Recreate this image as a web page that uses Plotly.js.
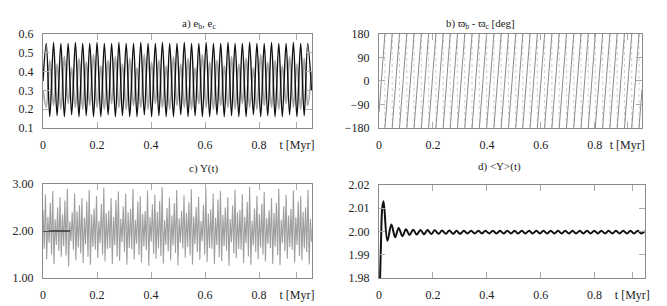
<!DOCTYPE html>
<html><head><meta charset="utf-8">
<script src="https://cdn.plot.ly/plotly-3.0.1.min.js"></script>
<style>html,body{margin:0;padding:0;background:#fff}#c{width:667px;height:306px}</style>
</head><body><div id="c"></div>
<script>
// ---- panel a: eccentricities (extrema) ----
const tExt = [0,0.012,0.025,0.039,0.052,0.066,0.079,0.093,0.106,0.120,0.133,0.147,0.160,0.173,0.187,0.200,0.214,0.227,0.241,0.254,0.268,0.281,0.294,0.308,0.321,0.335,0.348,0.362,0.375,0.389,0.402,0.416,0.429,0.442,0.456,0.469,0.483,0.496,0.510,0.523,0.537,0.550,0.563,0.577,0.590,0.604,0.617,0.631,0.644,0.658,0.671,0.685,0.698,0.711,0.725,0.738,0.752,0.765,0.779,0.792,0.806,0.819,0.832,0.846,0.859,0.873,0.886,0.900,0.913,0.927,0.940,0.954,0.967,0.980,0.994];
const eB = [0.35,0.55,0.16,0.555,0.165,0.55,0.16,0.55,0.17,0.555,0.16,0.55,0.165,0.55,0.16,0.555,0.16,0.55,0.17,0.55,0.16,0.555,0.165,0.55,0.16,0.55,0.16,0.555,0.17,0.55,0.16,0.55,0.165,0.555,0.16,0.55,0.16,0.55,0.17,0.555,0.16,0.55,0.165,0.55,0.16,0.555,0.16,0.55,0.17,0.55,0.16,0.555,0.165,0.55,0.16,0.55,0.16,0.555,0.17,0.55,0.16,0.55,0.165,0.555,0.16,0.55,0.16,0.55,0.17,0.555,0.16,0.55,0.165,0.55,0.30];
const eC = [0.30,0.21,0.46,0.22,0.44,0.20,0.48,0.23,0.42,0.21,0.47,0.20,0.45,0.22,0.49,0.21,0.43,0.20,0.46,0.23,0.48,0.21,0.44,0.20,0.47,0.22,0.42,0.21,0.49,0.20,0.45,0.23,0.46,0.21,0.43,0.20,0.48,0.22,0.44,0.21,0.47,0.20,0.42,0.23,0.49,0.21,0.45,0.20,0.46,0.22,0.43,0.21,0.48,0.20,0.44,0.23,0.47,0.21,0.42,0.20,0.49,0.22,0.45,0.21,0.46,0.20,0.43,0.23,0.48,0.21,0.44,0.20,0.47,0.22,0.40];

// ---- panel b: apsidal angle difference, wrap times ----
const bStartT = 0, bStartAngle = -120;
const bWrapT = [0.022,0.049,0.076,0.103,0.130,0.157,0.184,0.211,0.238,0.264,0.291,0.318,0.345,0.372,0.399,0.426,0.453,0.480,0.507,0.533,0.560,0.587,0.614,0.641,0.668,0.695,0.722,0.749,0.776,0.802,0.829,0.856,0.883,0.910,0.937,0.964];
const bEndT = 0.975, bEndAngle = -33;

// ---- panel c: Y(t), uniform samples ----
const cDt = 0.0045;
const cY = [
2.45,1.62,2.78,1.40,2.30,1.75, 2.60,1.50,2.85,1.30,2.25,1.70, 2.50,1.58,2.72,1.45,2.35,1.68,
2.65,1.48,2.90,1.25,2.20,1.78, 2.40,1.60,2.80,1.38,2.42,1.65, 2.55,1.52,2.70,1.32,2.28,1.72,
2.62,1.45,2.88,1.28,2.35,1.66, 2.48,1.60,2.75,1.42,2.22,1.74, 2.58,1.50,2.92,1.35,2.38,1.62,
2.44,1.64,2.70,1.30,2.30,1.70, 2.66,1.46,2.84,1.36,2.26,1.76, 2.52,1.56,2.79,1.28,2.40,1.64,
2.47,1.61,2.90,1.40,2.24,1.73, 2.63,1.49,2.74,1.33,2.36,1.67, 2.42,1.59,2.86,1.26,2.29,1.77,
2.57,1.51,2.77,1.41,2.41,1.63, 2.64,1.47,2.93,1.31,2.23,1.71, 2.49,1.57,2.71,1.37,2.33,1.69,
2.59,1.53,2.87,1.27,2.27,1.75, 2.43,1.63,2.76,1.43,2.39,1.66, 2.61,1.48,2.89,1.29,2.31,1.72,
2.51,1.55,2.73,1.39,2.21,1.78, 2.56,1.50,2.91,1.34,2.37,1.64, 2.46,1.62,2.80,1.30,2.28,1.70,
2.67,1.44,2.85,1.36,2.34,1.68, 2.50,1.58,2.72,1.26,2.25,1.76, 2.54,1.52,2.88,1.42,2.40,1.62,
2.45,1.60,2.78,1.32,2.30,1.74, 2.62,1.46,2.94,1.28,2.22,1.69, 2.48,1.56,2.75,1.40,2.36,1.65,
2.58,1.50,2.83,1.35,2.27,1.73, 2.44,1.64,2.70,1.30,2.38,1.67, 2.60,1.49,2.90,1.27,2.24,1.75,
2.52,1.57,2.77,1.41,2.33,1.66, 2.47,1.60,2.86,1.33,2.29,1.71, 2.63,1.47,2.74,1.38,2.41,1.63,
2.50,1.55,2.88,1.29,2.26,1.77
];
const cMeanLine = {t:[0,0.1], y:[2.0,2.0]};

// ---- panel d: running mean <Y>(t) ----
const dT = [0,0.004,0.008,0.012,0.017,0.031,0.046,0.060,0.073,0.087,0.100,0.113,0.127,0.140,0.154,0.167,0.180,0.194,0.207,0.221,0.234,0.248,0.261,0.275,0.288,0.301,0.315,0.328,0.342,0.355,0.369,0.382,0.395,0.409,0.422,0.436,0.449,0.463,0.476,0.490,0.503,0.516,0.530,0.543,0.557,0.570,0.584,0.597,0.610,0.624,0.637,0.651,0.664,0.678,0.691,0.705,0.718,0.731,0.745,0.758,0.772,0.785,0.799,0.812,0.825,0.839,0.852,0.866,0.879,0.893,0.906,0.920,0.933,0.946,0.960,0.973,0.987];
const dY = [1.960,1.980,1.998,2.010,2.013,1.996,2.003,1.9975,2.0015,1.998,2.0010,1.9985,2.0008,1.9987,2.0007,1.9988,2.0006,1.9989,2.0005,1.9990,2.0004,1.9990,2.0004,1.9990,2.0003,1.9990,2.0003,1.9991,2.0003,1.9991,2.0003,1.9991,2.0003,1.9991,2.0003,1.9991,2.0003,1.9991,2.0003,1.9991,2.0003,1.9991,2.0003,1.9991,2.0003,1.9991,2.0003,1.9991,2.0003,1.9991,2.0003,1.9991,2.0003,1.9991,2.0003,1.9991,2.0003,1.9991,2.0003,1.9991,2.0003,1.9991,2.0003,1.9991,2.0003,1.9991,2.0003,1.9991,2.0003,1.9991,2.0003,1.9991,2.0003,1.9991,2.0003,1.9991,2.0003];

const xTickVals = [0,0.2,0.4,0.6,0.8,0.94];
const xTickText = ['0','0.2','0.4','0.6','0.8','t [Myr]'];

// build panel b segments
const bx=[], by=[], jx=[], jy=[];
const pts=[bStartT, ...bWrapT, bEndT];
for(let i=0;i<pts.length-1;i++){
  const a0 = i===0 ? bStartAngle : -180;
  const a1 = i===pts.length-2 ? bEndAngle : 180;
  bx.push(pts[i],pts[i+1],null); by.push(a0,a1,null);
}
bWrapT.forEach(t=>{jx.push(t,t,null); jy.push(180,-180,null);});
const cT = cY.map((_,i)=>i*cDt);

const font = {family:'"Liberation Serif", "Times New Roman", serif', size:12, color:'#222'};
function ax(extra){return Object.assign({showgrid:false, zeroline:false, showline:true, linecolor:'#8a8a8a', linewidth:1, mirror:'ticks', ticks:'inside', ticklen:6, tickcolor:'#aaa', tickfont:font, ticklabelstandoff:6},extra);}

const data = [
 {x:tExt,y:eC,xaxis:'x',yaxis:'y',mode:'lines',line:{color:'#a8a8a8',width:1.8,shape:'spline'}},
 {x:tExt,y:eB,xaxis:'x',yaxis:'y',mode:'lines',line:{color:'#111',width:1.4,shape:'spline'}},
 {x:jx,y:jy,xaxis:'x2',yaxis:'y2',mode:'lines',line:{color:'#d0d0d0',width:1,dash:'dot'}},
 {x:bx,y:by,xaxis:'x2',yaxis:'y2',mode:'lines',line:{color:'#8c8c8c',width:1}},
 {x:cT,y:cY,xaxis:'x3',yaxis:'y3',mode:'lines',line:{color:'rgba(95,95,95,0.6)',width:1.1}},
 {x:cMeanLine.t,y:cMeanLine.y,xaxis:'x3',yaxis:'y3',mode:'lines',line:{color:'#333',width:1.5}},
 {x:dT,y:dY,xaxis:'x4',yaxis:'y4',mode:'lines',line:{color:'#111',width:2,shape:'spline'}}
];
const layout = {
 width:667,height:306,margin:{l:0,r:0,t:0,b:0},showlegend:false,paper_bgcolor:'#fff',plot_bgcolor:'#fff',
 xaxis: ax({domain:[0.0645,0.4678],range:[0,0.996],tickvals:xTickVals,ticktext:xTickText,anchor:'y'}),
 yaxis: ax({domain:[0.5817,0.8889],range:[0.1,0.6],tickvals:[0.1,0.2,0.3,0.4,0.5,0.6],anchor:'x'}),
 xaxis2: ax({domain:[0.5682,0.9625],range:[0,0.975],tickvals:[0,0.2,0.4,0.6,0.8,0.92],ticktext:xTickText,anchor:'y2'}),
 yaxis2: ax({domain:[0.5817,0.8889],range:[-180,180],tickvals:[-180,-90,0,90,180],anchor:'x2'}),
 xaxis3: ax({domain:[0.0645,0.4678],range:[0,0.996],tickvals:xTickVals,ticktext:xTickText,anchor:'y3'}),
 yaxis3: ax({domain:[0.0915,0.3987],range:[1,3],tickvals:[1,2,3],tickformat:'.2f',anchor:'x3'}),
 xaxis4: ax({domain:[0.5682,0.9670],range:[0,0.987],tickvals:xTickVals,ticktext:xTickText,anchor:'y4'}),
 yaxis4: ax({domain:[0.0915,0.3954],range:[1.98,2.02],tickvals:[1.98,1.99,2.00,2.01,2.02],tickformat:'.2f',anchor:'x4'}),
 annotations:[
  {text:'a) e<sub>b</sub>, e<sub>c</sub>',x:180/667,y:1-15/306,xref:'paper',yref:'paper',showarrow:false,font:{family:font.family,size:11,color:'#222'}},
  {text:'b) ϖ<sub>b</sub> - ϖ<sub>c</sub> [deg]',x:517/667,y:1-15/306,xref:'paper',yref:'paper',showarrow:false,font:{family:font.family,size:11,color:'#222'}},
  {text:'c) Y(t)',x:187/667,y:1-168/306,xref:'paper',yref:'paper',showarrow:false,font:{family:font.family,size:11,color:'#222'}},
  {text:'d) &lt;Y&gt;(t)',x:523/667,y:1-167/306,xref:'paper',yref:'paper',showarrow:false,font:{family:font.family,size:11,color:'#222'}}
 ]
};
Plotly.newPlot('c',data,layout,{staticPlot:true,displayModeBar:false});
</script></body></html>
